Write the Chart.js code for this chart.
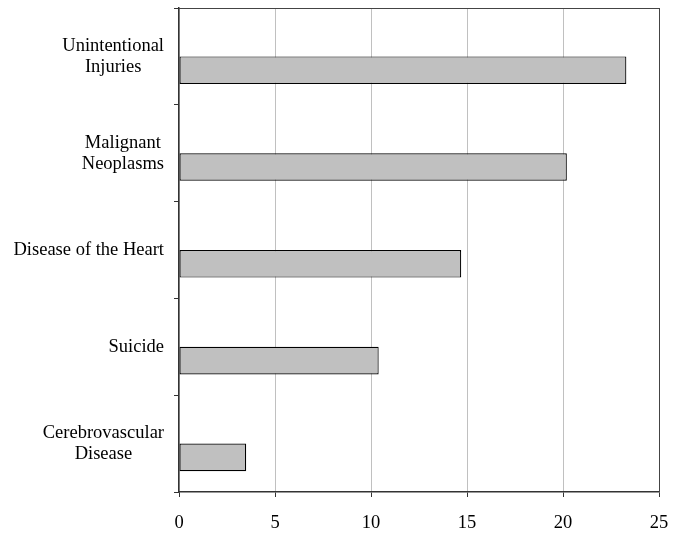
<!DOCTYPE html>
<html>
<head>
<meta charset="utf-8">
<script src="https://cdn.jsdelivr.net/npm/chart.js@4/dist/chart.umd.min.js"></script>
<style>
  html, body { margin: 0; padding: 0; background: #fff; }
  #wrap { width: 673px; height: 535px; }
</style>
</head>
<body>
<div id="wrap"><canvas id="myChart" width="673" height="535"></canvas></div>
<script>
const categories = [
    ['Unintentional', 'Injuries'],
    ['Malignant', 'Neoplasms'],
    ['Disease of the Heart'],
    ['Suicide'],
    ['Cerebrovascular', 'Disease']
];
const rates = [23.3, 20.2, 14.7, 10.4, 3.5];
const spacer = categories.map(() => null); // empty first series, bars sit in the lower slot
const xTicks = [0, 5, 10, 15, 20, 25];

const serif = '"Liberation Serif", "Times New Roman", serif';

// category labels: each label right aligned as a block, lines centred inside it
const categoryLabels = {
    id: 'categoryLabels',
    afterDraw(chart) {
        const { ctx } = chart;
        const y = chart.scales.y;
        ctx.save();
        ctx.font = '18.5px ' + serif;
        ctx.fillStyle = '#000';
        ctx.textAlign = 'center';
        ctx.textBaseline = 'middle';
        const right = 164;
        const lh = 21;
        categories.forEach((lines, i) => {
            const widest = Math.max(...lines.map(l => ctx.measureText(l).width));
            const cx = right - widest / 2;
            const cy = y.getPixelForTick(i);
            lines.forEach((l, j) => {
                ctx.fillText(l, cx, cy + (j - (lines.length - 1) / 2) * lh);
            });
        });
        ctx.restore();
    }
};

// top and right frame of the plot area
const frame = {
    id: 'frame',
    afterDatasetsDraw(chart) {
        const { ctx, chartArea: a } = chart;
        ctx.save();
        ctx.strokeStyle = '#444';
        ctx.lineWidth = 1;
        ctx.beginPath();
        ctx.moveTo(a.left, a.top + 0.5);
        ctx.lineTo(a.right + 0.5, a.top + 0.5);
        ctx.lineTo(a.right + 0.5, a.bottom);
        ctx.stroke();
        ctx.restore();
    }
};

const ctx = document.getElementById('myChart').getContext('2d');
const myChart = new Chart(ctx, {
    type: 'bar',
    data: {
        labels: categories,
        datasets: [
            {
                label: '',
                data: spacer
            },
            {
                label: 'Rate',
                data: rates,
                backgroundColor: '#c0c0c0',
                borderColor: '#000',
                borderWidth: 1.2,
                borderSkipped: false
            }
        ]
    },
    options: {
        indexAxis: 'y',
        responsive: false,
        animation: false,
        layout: { padding: { left: 174, right: 14, top: 8, bottom: 0 } },
        scales: {
            x: {
                min: 0,
                max: 25,
                afterBuildTicks(scale) {
                    scale.ticks = xTicks.map(v => ({ value: v }));
                },
                afterFit(scale) {
                    scale.height = 43;
                    scale.paddingLeft = 0;
                    scale.paddingRight = 0;
                },
                ticks: {
                    color: '#000',
                    font: { family: serif, size: 18.5 },
                    padding: 15
                },
                grid: {
                    color: c => (c.tick && c.tick.value === 25 ? '#444' : '#c0c0c0'),
                    tickColor: '#333',
                    tickLength: 5
                },
                border: { color: '#333', width: 1.5 }
            },
            y: {
                ticks: { display: false },
                grid: {
                    offset: true,
                    drawOnChartArea: false,
                    tickColor: '#333',
                    tickLength: 5
                },
                border: { color: '#333', width: 1.5 }
            }
        },
        datasets: {
            bar: { categoryPercentage: 0.57, barPercentage: 1 }
        },
        plugins: {
            legend: { display: false },
            tooltip: { enabled: false }
        }
    },
    plugins: [categoryLabels, frame]
});
</script>
</body>
</html>
